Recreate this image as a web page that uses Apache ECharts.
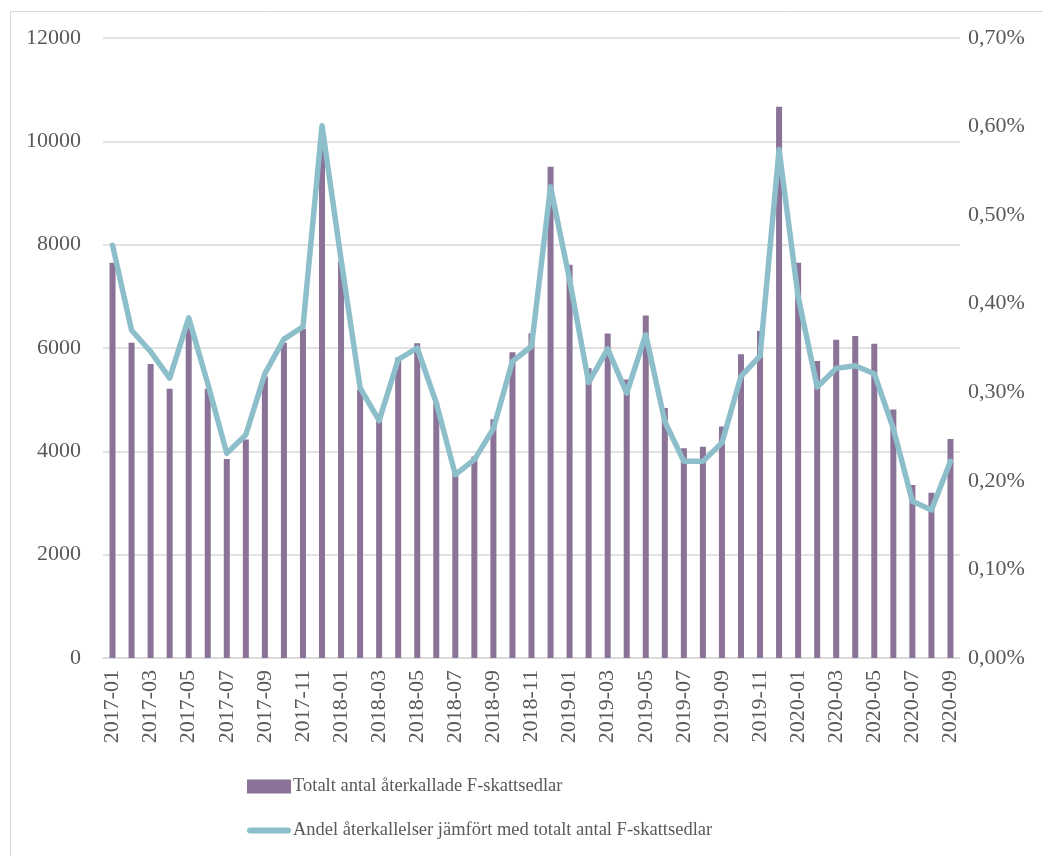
<!DOCTYPE html>
<html lang="sv">
<head>
  <meta charset="UTF-8">
  <title>Återkallade F-skattsedlar</title>
  <style>
    body { margin: 0; background: #fff; }
  </style>
</head>
<body>
  <div id="main" style="width: 1043px;height:856px;"></div>

  <script src="https://cdn.jsdelivr.net/npm/echarts@6/dist/echarts.min.js"></script>
  <script>
    const months = [
      '2017-01', '2017-02', '2017-03', '2017-04', '2017-05', '2017-06', '2017-07', '2017-08', '2017-09', '2017-10', '2017-11', '2017-12',
      '2018-01', '2018-02', '2018-03', '2018-04', '2018-05', '2018-06', '2018-07', '2018-08', '2018-09', '2018-10', '2018-11', '2018-12',
      '2019-01', '2019-02', '2019-03', '2019-04', '2019-05', '2019-06', '2019-07', '2019-08', '2019-09', '2019-10', '2019-11', '2019-12',
      '2020-01', '2020-02', '2020-03', '2020-04', '2020-05', '2020-06', '2020-07', '2020-08', '2020-09'
    ];

    // antal återkallade F-skattsedlar per månad
    const recalled = [
      7650, 6100, 5690, 5210, 6410, 5210, 3850, 4230, 5450, 6100, 6370, 9950,
      7680, 5190, 4610, 5810, 6090, 4940, 3600, 3900, 4620, 5920, 6280, 9510,
      7610, 5610, 6280, 5390, 6630, 4840, 4060, 4090, 4480, 5880, 6330, 10670,
      7650, 5750, 6160, 6230, 6080, 4810, 3350, 3200, 4240
    ];

    // andel i procent
    const share = [
      0.466, 0.370, 0.346, 0.316, 0.384, 0.310, 0.231, 0.252, 0.321, 0.360, 0.374, 0.601,
      0.450, 0.305, 0.268, 0.337, 0.350, 0.288, 0.207, 0.224, 0.259, 0.335, 0.352, 0.532,
      0.427, 0.311, 0.349, 0.299, 0.365, 0.267, 0.222, 0.222, 0.243, 0.318, 0.341, 0.574,
      0.408, 0.306, 0.327, 0.330, 0.321, 0.259, 0.177, 0.167, 0.222
    ];

    const barName = 'Totalt antal återkallade F-skattsedlar';
    const lineName = 'Andel återkallelser jämfört med totalt antal F-skattsedlar';

    const textColor = '#595959';
    const gridColor = '#d9d9d9';
    const font = '"Liberation Serif", "DejaVu Serif", serif';

    const myChart = echarts.init(document.getElementById('main'));

    const options = {
      animation: false,
      textStyle: { fontFamily: font, color: textColor },
      graphic: [{
        type: 'rect',
        left: 8,
        top: 9,
        shape: { width: 1040, height: 852 },
        style: { fill: 'none', stroke: gridColor, lineWidth: 1 },
        silent: true
      }],
      grid: {
        left: 103,
        right: 83,
        top: 38,
        bottom: 198
      },
      legend: {
        orient: 'vertical',
        left: 242,
        top: 772,
        itemGap: 25,
        itemWidth: 44,
        itemHeight: 14,
        symbolKeepAspect: true,
        textStyle: { fontFamily: font, fontSize: 18.5, color: textColor, padding: [0, 0, 0, -3] },
        data: [
          { name: barName, icon: 'rect' },
          { name: lineName, icon: 'path://M3,0 L41,0 A3,3 0 0 1 41,6 L3,6 A3,3 0 0 1 3,0 Z' }
        ]
      },
      xAxis: {
        type: 'category',
        data: months,
        axisLine: { lineStyle: { color: gridColor, width: 1.5 } },
        axisTick: { show: false },
        axisLabel: {
          interval: 1,
          rotate: 90,
          margin: 12,
          fontFamily: font,
          fontSize: 22,
          color: textColor
        }
      },
      yAxis: [
        {
          type: 'value',
          min: 0,
          max: 12000,
          interval: 2000,
          axisLine: { show: false },
          axisTick: { show: false },
          splitLine: { lineStyle: { color: gridColor, width: 1.5 } },
          axisLabel: {
            margin: 22,
            fontFamily: font,
            fontSize: 22,
            color: textColor,
            formatter: v => String(v)
          }
        },
        {
          type: 'value',
          min: 0,
          max: 0.7,
          interval: 0.1,
          axisLine: { show: false },
          axisTick: { show: false },
          splitLine: { show: false },
          axisLabel: {
            margin: 8,
            fontFamily: font,
            fontSize: 22,
            color: textColor,
            formatter: v => v.toFixed(2).replace('.', ',') + '%'
          }
        }
      ],
      series: [
        {
          name: barName,
          type: 'bar',
          yAxisIndex: 0,
          barWidth: 6,
          itemStyle: { color: '#8b7297' },
          data: recalled
        },
        {
          name: lineName,
          type: 'line',
          yAxisIndex: 1,
          symbol: 'none',
          lineStyle: { color: '#8dbfca', width: 5.5, cap: 'round', join: 'round' },
          itemStyle: { color: '#8dbfca' },
          data: share
        }
      ]
    };

    myChart.setOption(options);
  </script>
</body>
</html>
